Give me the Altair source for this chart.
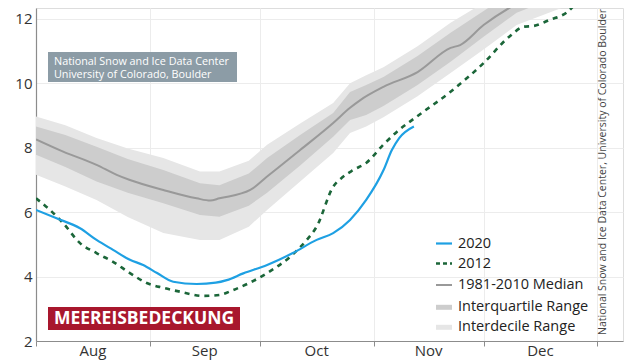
import altair as alt
import pandas as pd

# ---- data (x = days since Aug 1, y = million km²) ----
band_days = [0, 8, 16.5, 25, 34.7, 44.7, 50, 58, 63, 72, 81, 85.6, 90, 94.7, 104, 113, 122, 131, 140, 149, 158]
idr_low   = [7.16, 6.8, 6.38, 5.85, 5.35, 5.14, 5.14, 5.55, 6.07, 6.95, 7.84, 8.46, 8.66, 8.95, 9.6, 10.32, 11.05, 11.81, 12.2, 12.59, 12.9]
iqr_low   = [7.78, 7.4, 6.95, 6.6, 6.28, 5.91, 5.86, 6.2, 6.6, 7.45, 8.34, 8.86, 9.02, 9.3, 9.95, 10.67, 11.45, 12.19, 12.6, 12.95, 13.3]
iqr_high  = [8.66, 8.4, 8.03, 7.65, 7.31, 6.9, 6.84, 7.2, 7.68, 8.4, 9.08, 9.73, 9.95, 10.2, 10.85, 11.57, 12.25, 12.9, 13.3, 13.6, 13.9]
idr_high  = [8.97, 8.7, 8.3, 7.98, 7.68, 7.26, 7.26, 7.6, 8.09, 8.75, 9.39, 10.0, 10.25, 10.5, 11.15, 11.88, 12.5, 13.1, 13.5, 13.8, 14.1]

median_days = [0, 7.4, 16.5, 22, 25.6, 34.7, 43.8, 47.5, 50, 58.4, 62.9, 72, 81, 85.6, 88.4, 94.7, 104, 113, 115.6, 122, 133, 145]
median_vals = [8.26, 7.88, 7.47, 7.16, 7.0, 6.69, 6.43, 6.36, 6.43, 6.69, 7.10, 7.93, 8.77, 9.24, 9.48, 9.89, 10.35, 11.1, 11.19, 11.81, 12.59, 13.1]

y2020_days = [0, 5.6, 12, 16.5, 21, 25.6, 29.2, 33, 37.4, 43.8, 49, 52, 56.5, 63, 70, 76.5, 81, 85.6, 90, 94.7, 97, 99, 103]
y2020_vals = [6.07, 5.81, 5.5, 5.14, 4.83, 4.52, 4.36, 4.11, 3.84, 3.77, 3.81, 3.89, 4.1, 4.36, 4.73, 5.14, 5.35, 5.76, 6.38, 7.3, 7.93, 8.3, 8.66]

y2012_days = [0, 3.8, 7.4, 12, 16.5, 21, 25.6, 30.2, 34.7, 39.3, 45.6, 50, 53.7, 63, 69.3, 73.8, 76.5, 81, 83.7, 86.5, 90, 94.7, 98.4, 103.8, 113, 122, 129, 133, 135.5, 140, 145, 148, 152]
y2012_vals = [6.43, 6.07, 5.66, 5.04, 4.73, 4.46, 4.11, 3.8, 3.65, 3.53, 3.40, 3.43, 3.58, 4.11, 4.62, 5.14, 5.55, 6.79, 7.1, 7.31, 7.53, 8.1, 8.5, 8.97, 9.74, 10.63, 11.45, 11.76, 11.78, 11.97, 12.23, 12.59, 12.9]

month_starts = [0, 31, 61, 92, 122, 153]
month_mids = [15.5, 46, 76.5, 107, 137.5]
month_names = ["Aug", "Sep", "Oct", "Nov", "Dec"]
y_ticks = [2, 4, 6, 8, 10, 12]

legend_labels = ["2020", "2012", "1981-2010 Median", "Interquartile Range", "Interdecile Range"]

W, H = 587, 333
FONT = "Open Sans"

bands = pd.DataFrame({"d": band_days, "idr_lo": idr_low, "idr_hi": idr_high,
                      "iqr_lo": iqr_low, "iqr_hi": iqr_high})
med = pd.DataFrame({"d": median_days, "v": median_vals})
s2020 = pd.DataFrame({"d": y2020_days, "v": y2020_vals})
s2012 = pd.DataFrame({"d": y2012_days, "v": y2012_vals})

xs = alt.Scale(domain=[0, 160], nice=False, zero=False)
ys = alt.Scale(domain=[2, 12.34], nice=False, zero=False)

xax = alt.Axis(values=month_starts, labels=False, title=None, grid=True, gridColor="#ececec",
               domainColor="#8c8c8c", tickColor="#8c8c8c", tickSize=5, domainWidth=1.2)
yax = alt.Axis(values=y_ticks, title=None, grid=True, gridColor="#ececec", domainColor="#8c8c8c",
               domainWidth=1.2, ticks=False, labelPadding=4, labelFontSize=15, labelColor="#333333",
               labelFont=FONT)

idr = alt.Chart(bands).mark_area(color="#e6e6e6", clip=True).encode(
    x=alt.X("d:Q", scale=xs, axis=xax),
    y=alt.Y("idr_lo:Q", scale=ys, axis=yax),
    y2="idr_hi:Q",
)
iqr = alt.Chart(bands).mark_area(color="#cdcdcd", clip=True).encode(
    x=alt.X("d:Q", scale=xs), y=alt.Y("iqr_lo:Q", scale=ys), y2="iqr_hi:Q")
median = alt.Chart(med).mark_line(color="#999999", strokeWidth=2, clip=True, interpolate="monotone").encode(
    x=alt.X("d:Q", scale=xs), y=alt.Y("v:Q", scale=ys))
line2012 = alt.Chart(s2012).mark_line(color="#1b6639", strokeWidth=2.6, strokeDash=[5, 5], clip=True,
                                      interpolate="monotone").encode(
    x=alt.X("d:Q", scale=xs), y=alt.Y("v:Q", scale=ys))
line2020 = alt.Chart(s2020).mark_line(color="#1ea0e3", strokeWidth=2.2, clip=True, interpolate="monotone").encode(
    x=alt.X("d:Q", scale=xs), y=alt.Y("v:Q", scale=ys))

months = alt.Chart(pd.DataFrame({"d": month_mids, "m": month_names})).mark_text(
    font=FONT, fontSize=15, color="#333333", baseline="middle", align="center").encode(
    x=alt.X("d:Q", scale=xs), y=alt.value(H + 10), text="m:N")

# source box top-left
src_box = alt.Chart(pd.DataFrame({"a": [0]})).mark_rect(color="#8c9ca6").encode(
    x=alt.value(12), x2=alt.value(201), y=alt.value(44), y2=alt.value(74))
src_text = alt.Chart(pd.DataFrame({"t": ["National Snow and Ice Data Center",
                                         "University of Colorado, Boulder"],
                                   "yy": [53.5, 67]})).mark_text(
    font=FONT, fontSize=10.8, color="white", align="left", baseline="middle").encode(
    x=alt.value(18), y=alt.Y("yy:Q", scale=None), text="t:N")

# red title box
red_box = alt.Chart(pd.DataFrame({"a": [0]})).mark_rect(color="#a8172d").encode(
    x=alt.value(12), x2=alt.value(204), y=alt.value(299), y2=alt.value(322))
red_text = alt.Chart(pd.DataFrame({"t": ["MEEREISBEDECKUNG"]})).mark_text(
    font=FONT, fontSize=17.5, fontWeight="bold", color="white", align="center", baseline="middle").encode(
    x=alt.value(108), y=alt.value(311), text="t:N")

# vertical credit
credit = alt.Chart(pd.DataFrame({"t": ["National Snow and Ice Data Center, University of Colorado Boulder"]})).mark_text(
    font=FONT, fontSize=10.5, color="#444444", angle=270, align="center", baseline="middle").encode(
    x=alt.value(W - 20), y=alt.value(164), text="t:N")

# manual legend
leg_y = [235.5, 255.5, 277, 299.3, 319.3]
leg = pd.DataFrame({"label": legend_labels, "yy": leg_y})
leg_text = alt.Chart(leg).mark_text(font=FONT, fontSize=14.5, color="#222222", align="left",
                                    baseline="middle").encode(
    x=alt.value(422), y=alt.Y("yy:Q", scale=None), text="label:N")

def leg_line(i, **kw):
    return alt.Chart(leg.iloc[[i]]).mark_rule(**kw).encode(
        x=alt.value(400), x2=alt.value(416), y=alt.Y("yy:Q", scale=None))

legend_marks = [
    leg_line(0, color="#1ea0e3", strokeWidth=2.2),
    leg_line(1, color="#1b6639", strokeWidth=2.6, strokeDash=[4, 3]),
    leg_line(2, color="#999999", strokeWidth=2),
    leg_line(3, color="#cdcdcd", strokeWidth=5),
    leg_line(4, color="#e6e6e6", strokeWidth=5),
]

chart = alt.layer(idr, iqr, median, line2012, line2020, months, src_box, src_text,
                  red_box, red_text, credit, leg_text, *legend_marks).properties(
    width=W, height=H,
    autosize=alt.AutoSizeParams(type="none"),
    padding={"left": 28, "top": 0, "right": 9, "bottom": 19},
).configure_view(stroke=None).configure(font=FONT)

chart.save("out.html", embed_options={"renderer": "svg", "actions": False})
